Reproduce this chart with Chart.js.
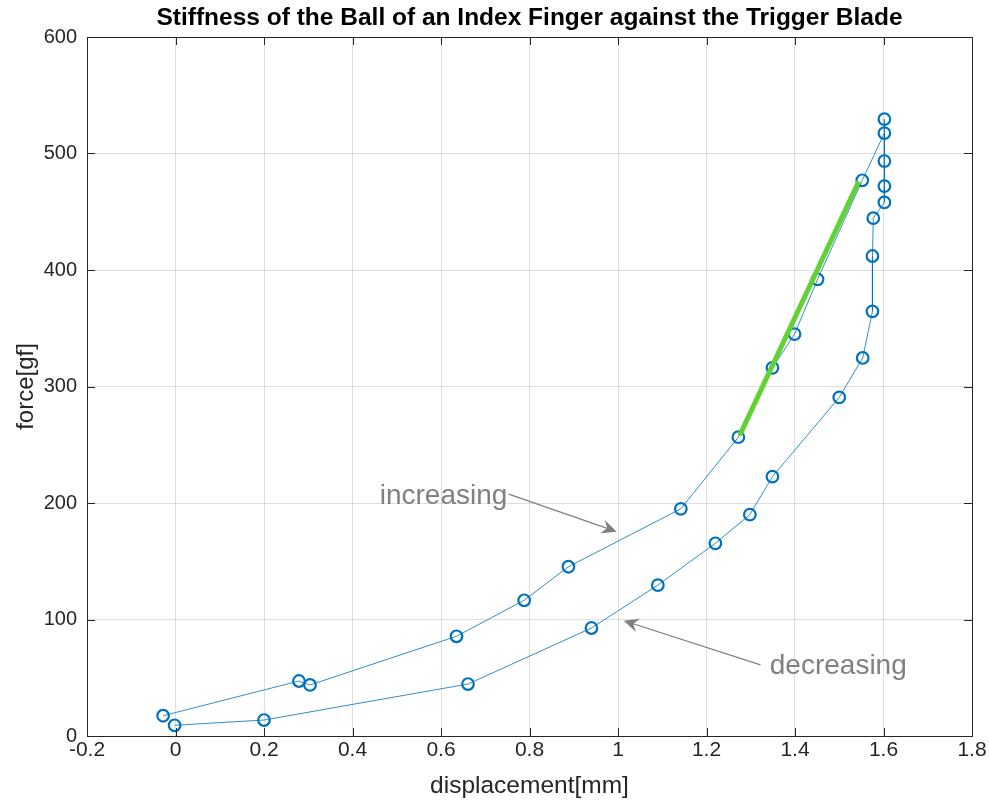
<!DOCTYPE html>
<html>
<head>
<meta charset="utf-8">
<title>Stiffness of the Ball of an Index Finger</title>
<script src="https://cdn.jsdelivr.net/npm/chart.js@4.4.0/dist/chart.umd.min.js"></script>
<style>
  html, body { margin: 0; padding: 0; background: #fff; }
  #wrap { width: 989px; height: 802px; }
</style>
</head>
<body>
<div id="wrap"><canvas id="stiffChart" width="989" height="802"></canvas></div>
<script>
// stiffness.js

// Loop as recorded: pressing in (increasing) then releasing (decreasing)
const displacement = [
    -0.028, 0.279, 0.304, 0.635, 0.788, 0.888, 1.142, 1.272, 1.349, 1.399,
    1.451, 1.552, 1.602, 1.602, 1.602, 1.602, 1.602, 1.577, 1.575, 1.575,
    1.553, 1.500, 1.349, 1.298, 1.220, 1.090, 0.940, 0.661, 0.200, -0.002
];
const force = [
    17.4, 47.2, 43.8, 85.6, 116.5, 145.3, 195.0, 256.5, 316.0, 345.0,
    392.0, 477.0, 517.5, 529.5, 493.5, 472.0, 458.0, 444.5, 412.0, 364.5,
    324.5, 290.7, 222.6, 190.0, 165.4, 129.5, 92.7, 44.6, 13.7, 9.2
];

// Linear fit over the steep part of the loading curve
const fitDisplacement = [1.275, 1.544];
const fitForce = [258, 476];

// Tick labels
const xTicks = [-0.2, 0, 0.2, 0.4, 0.6, 0.8, 1, 1.2, 1.4, 1.6, 1.8];
const yTicks = [0, 100, 200, 300, 400, 500, 600];

// Text arrows (data units)
const noteLabels = ['increasing', 'decreasing'];
const noteTextAt = [[0.750, 205.4], [1.343, 59.5]];
const noteAlign = ['right', 'left'];
const arrowTail = [[0.753, 207.7], [1.322, 61.0]];
const arrowTip = [[0.997, 175.4], [1.013, 99.0]];

const chartTitle = 'Stiffness of the Ball of an Index Finger against the Trigger Blade';

const AXIS_COLOR = '#262626';
const NOTE_COLOR = '#808080';
const FONT = '"Liberation Sans", Arial, Helvetica, sans-serif';

// Draw an arrow head like MATLAB's default (vback2)
function drawArrow(ctx, x0, y0, x1, y1) {
    const ang = Math.atan2(y1 - y0, x1 - x0);
    const len = 15, half = 7, back = 10;
    const bx = x1 - len * Math.cos(ang), by = y1 - len * Math.sin(ang);
    const nx = x1 - back * Math.cos(ang), ny = y1 - back * Math.sin(ang);
    const px = -Math.sin(ang) * half, py = Math.cos(ang) * half;

    ctx.beginPath();
    ctx.moveTo(x0, y0);
    ctx.lineTo(nx, ny);
    ctx.lineWidth = 1.3;
    ctx.strokeStyle = NOTE_COLOR;
    ctx.stroke();

    ctx.beginPath();
    ctx.moveTo(x1, y1);
    ctx.lineTo(bx + px, by + py);
    ctx.lineTo(nx, ny);
    ctx.lineTo(bx - px, by - py);
    ctx.closePath();
    ctx.fillStyle = NOTE_COLOR;
    ctx.fill();
}

// Title over the axes, box around the axes, inward ticks, and the text arrows
const matlabFrame = {
    id: 'matlabFrame',
    afterDatasetsDraw(chart) {
        const { ctx, chartArea: a, scales: { x, y } } = chart;
        const tick = 8;
        ctx.save();

        ctx.font = 'bold 24.5px ' + FONT;
        ctx.fillStyle = '#000';
        ctx.textAlign = 'center';
        ctx.textBaseline = 'middle';
        ctx.fillText(chartTitle, (a.left + a.right) / 2, 18);

        ctx.strokeStyle = AXIS_COLOR;
        ctx.lineWidth = 1;
        ctx.strokeRect(Math.round(a.left) + 0.5, Math.round(a.top) + 0.5,
            Math.round(a.right - a.left), Math.round(a.bottom - a.top));

        ctx.beginPath();
        xTicks.forEach(v => {
            const px = Math.round(x.getPixelForValue(v)) + 0.5;
            ctx.moveTo(px, a.bottom); ctx.lineTo(px, a.bottom - tick);
            ctx.moveTo(px, a.top); ctx.lineTo(px, a.top + tick);
        });
        yTicks.forEach(v => {
            const py = Math.round(y.getPixelForValue(v)) + 0.5;
            ctx.moveTo(a.left, py); ctx.lineTo(a.left + tick, py);
            ctx.moveTo(a.right, py); ctx.lineTo(a.right - tick, py);
        });
        ctx.stroke();

        noteLabels.forEach((label, i) => {
            drawArrow(ctx,
                x.getPixelForValue(arrowTail[i][0]), y.getPixelForValue(arrowTail[i][1]),
                x.getPixelForValue(arrowTip[i][0]), y.getPixelForValue(arrowTip[i][1]));
            ctx.font = '28px ' + FONT;
            ctx.fillStyle = NOTE_COLOR;
            ctx.textAlign = noteAlign[i];
            ctx.textBaseline = 'middle';
            ctx.fillText(label, x.getPixelForValue(noteTextAt[i][0]), y.getPixelForValue(noteTextAt[i][1]));
        });
        ctx.restore();
    }
};

const ctx = document.getElementById('stiffChart').getContext('2d');
new Chart(ctx, {
    type: 'scatter',
    data: {
        datasets: [{
            label: 'fit',
            data: fitDisplacement.map((d, i) => ({ x: d, y: fitForce[i] })),
            showLine: true,
            borderColor: '#62d133',
            borderWidth: 5,
            pointRadius: 0,
            order: 0
        }, {
            label: 'measured',
            data: displacement.map((d, i) => ({ x: d, y: force[i] })),
            showLine: true,
            borderColor: 'rgba(0, 114, 189, 0.8)',
            borderWidth: 1,
            pointRadius: 5.8,
            pointBorderWidth: 2.2,
            pointBorderColor: '#0072BD',
            pointBackgroundColor: 'rgba(0,0,0,0)',
            tension: 0,
            order: 1
        }]
    },
    options: {
        responsive: false,
        animation: false,
        layout: { padding: { left: 0, right: 17, top: 37, bottom: 0 } },
        plugins: {
            legend: { display: false },
            tooltip: { enabled: false },
            title: { display: false }
        },
        scales: {
            x: {
                type: 'linear',
                min: -0.2,
                max: 1.8,
                afterBuildTicks: s => { s.ticks = xTicks.map(v => ({ value: v })); },
                afterFit: s => { s.height = 66; },
                grid: { color: 'rgba(38,38,38,0.15)', drawTicks: false },
                border: { display: false },
                ticks: {
                    color: AXIS_COLOR,
                    font: { family: FONT, size: 21 },
                    padding: 2,
                    maxRotation: 0,
                    callback: v => String(Math.round(v * 10) / 10)
                },
                title: {
                    display: true,
                    text: 'displacement[mm]',
                    color: AXIS_COLOR,
                    font: { family: FONT, size: 24.5 },
                    padding: { top: 0, bottom: 1 }
                }
            },
            y: {
                type: 'linear',
                min: 0,
                max: 600,
                afterBuildTicks: s => { s.ticks = yTicks.map(v => ({ value: v })); },
                afterFit: s => { s.width = 87; },
                grid: { color: 'rgba(38,38,38,0.15)', drawTicks: false },
                border: { display: false },
                ticks: {
                    color: AXIS_COLOR,
                    font: { family: FONT, size: 20 },
                    padding: 10
                },
                title: {
                    display: true,
                    text: 'force[gf]',
                    color: AXIS_COLOR,
                    font: { family: FONT, size: 24 },
                    padding: { top: 12, bottom: 0 }
                }
            }
        }
    },
    plugins: [matlabFrame]
});
</script>
</body>
</html>
